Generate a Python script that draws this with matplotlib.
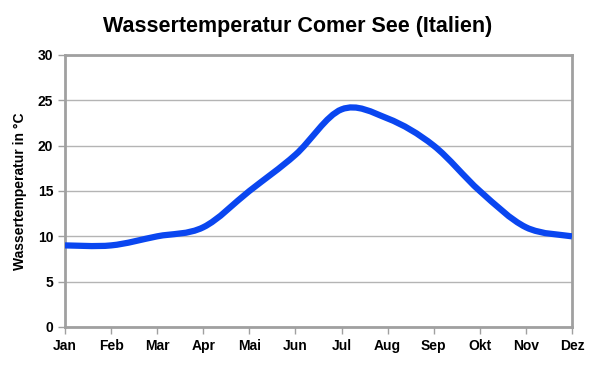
import numpy as np
import matplotlib
matplotlib.use('Agg')
import matplotlib.pyplot as plt
from matplotlib.path import Path
from matplotlib.patches import PathPatch

# Daten
monate = ['Jan', 'Feb', 'Mar', 'Apr', 'Mai', 'Jun', 'Jul', 'Aug', 'Sep', 'Okt', 'Nov', 'Dez']
temperatur = [9, 9, 10, 11, 15, 19, 24, 23, 20, 15, 11, 10]

plt.rcParams['font.family'] = ['Liberation Sans', 'DejaVu Sans']
plt.rcParams['font.weight'] = 'bold'

fig = plt.figure(figsize=(5.96, 3.75), dpi=100)
ax = fig.add_axes([65/596, 48/375, 507/596, 272/375])

x = np.arange(len(monate), dtype=float)
y = np.array(temperatur, dtype=float)

# geglaettete Linie als Bezier-Pfad (Catmull-Rom)
verts = [(x[0], y[0])]
codes = [Path.MOVETO]
t = 0.5
for i in range(len(x) - 1):
    x0, y0 = (x[i-1], y[i-1]) if i > 0 else (x[i], y[i])
    x3, y3 = (x[i+2], y[i+2]) if i + 2 < len(x) else (x[i+1], y[i+1])
    c1 = (x[i] + (x[i+1] - x0) * t / 3, y[i] + (y[i+1] - y0) * t / 3)
    c2 = (x[i+1] - (x3 - x[i]) * t / 3, y[i+1] - (y3 - y[i]) * t / 3)
    verts += [c1, c2, (x[i+1], y[i+1])]
    codes += [Path.CURVE4] * 3
ax.add_patch(PathPatch(Path(verts, codes), fill=False, edgecolor='#0a46f0',
                       lw=4.5, capstyle='butt', zorder=3))

ax.set_xlim(0, 11)
ax.set_ylim(0, 30)
ax.set_xticks(x)
ax.set_xticklabels(monate)
ax.set_yticks(np.arange(0, 31, 5))
ax.grid(axis='y', color='#b4b4b4', lw=1)
ax.set_axisbelow(True)
for s in ax.spines.values():
    s.set_color('#a0a0a0')
    s.set_linewidth(2)
ax.tick_params(colors='#a0a0a0', labelcolor='black', length=5, width=1, labelsize=10)
ax.set_ylabel('Wassertemperatur in °C', fontsize=10, fontweight='bold', labelpad=8)
fig.suptitle('Wassertemperatur Comer See (Italien)', fontsize=15.5, fontweight='bold', y=0.957)

plt.savefig('out.png', dpi=100)
